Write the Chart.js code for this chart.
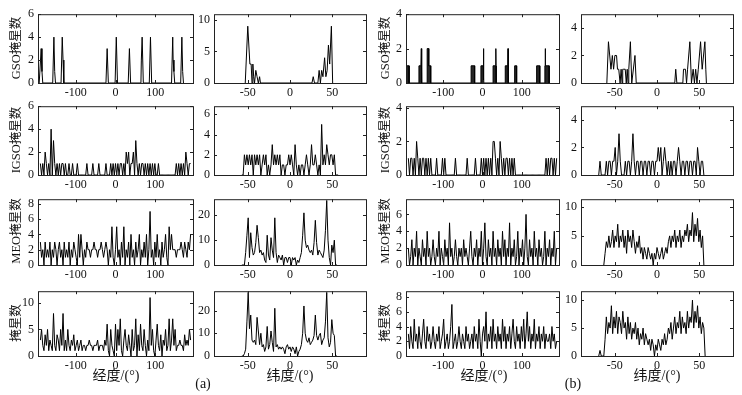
<!DOCTYPE html>
<html>
<head>
<meta charset="utf-8">
<script src="https://cdn.jsdelivr.net/npm/chart.js@4"></script>
<style>
  html, body { margin: 0; padding: 0; background: #fff; }
  #fig { position: relative; width: 742px; height: 395px; overflow: hidden;
         font-family: "Liberation Serif", "Noto Sans CJK SC", serif; color: #111; }
  #fig canvas { position: absolute; }
  .lbl { position: absolute; white-space: nowrap; line-height: 1; }
  .rot { font-size: 12.5px; transform: translate(-50%, -50%) rotate(-90deg); }
  .ctr { font-size: 14px; transform: translate(-50%, -50%); }
</style>
</head>
<body>
<div id="fig"></div>
<script>
/* 掩星数分布: (a) / (b) 两组, 每组 4 行 (GSO, IGSO, MEO, 总) x 2 列 (经度, 纬度) */
const LON_TICKS = [-100, 0, 100];
const LAT_TICKS = [-50, 0, 50];
const LON_START = -189, LON_STEP = 3;
const LAT_STEP = 1.5;
const Y_LABELS = ['GSO掩星数', 'IGSO掩星数', 'MEO掩星数', '掩星数'];

// GSO - spikes listed as explicit points
const GSO_A_LON_X = [-192,-187,-185,-183, -158,-155,-153,-151, -137,-134,-132,-130, -24,-21,-18, -1,2,5, 32,35,38, 64,65,67,70, 85,88,91, 141,144,145,147,149, 164,167,169,171];
const GSO_A_LON_Y = [0,3,1,0, 0,4,1,0, 0,4,2,0, 0,3,0, 0,4,0, 0,3,0, 0,2,4,0, 0,4,0, 0,4,2,1,0, 0,4,1,0];
const GSO_A_LAT_X = [-53,-50,-47.5,-46,-45,-44,-43,-42,-40.5,-39,-37.5,-36,-35, 26,27.5,29, 33,34.5,36,37.5,39,41,42.5,44,45.5,47,49,50.5];
const GSO_A_LAT_Y = [0,9,3,3,0,3,1,0,2,1,0,1,0, 0,1,0, 0,2,0,2,1,4,1,2,6,3,9,0];
const GSO_B_LON_X = [-195,-195,-187,-187, -162,-162,-157,-156,-155,-155, -141,-141,-137,-137,-132,-132, -29,-29,-20,-20,
  -4,-4,2,2.5,3,3, 27,27,33.5,34,34.5,35,35, 58,58,64.5,65,65.5,66,66, 82,82,87,87, 138,138,146,146, 159,159,159.5,160,160.5,170,170];
const GSO_B_LON_Y = [0,1,1,0, 0,1,1,2,1,0, 0,2,2,1,1,0, 0,1,1,0,
  0,1,1,2,1,0, 0,1,1,2,1,1,0, 0,1,1,2,1,1,0, 0,1,1,0, 0,1,1,0, 0,1,1,2,1,1,0];
const GSO_B_LAT_X = [-59.4,-57.5,-54.5,-52.9,-51.4,-49.9,-47.9,-46.8,-45.3,-43.7,-42.5,-41.4,-40.6,-39.9,-37.6,-36.4,-35.3,-34.3,-33.4,-31.5,-29.9,-26.1,-24.6,
  21,22.2,23.5, 30.6,31.4,33.7,35,36.2,38.9,40.8,42.8,44.3,45.8,47.3,48.9,51.6,53.5,56.7,57.8,58.5];
const GSO_B_LAT_Y = [0,3,1,2,1,2,2,1,1,0,1,0,1,1,1,0,1,0,1,3,0,2,0,
  0,1,0, 0,1,1,0,1,3,0,1,0,1,0,1,3,1,3,1,0];

// IGSO
const IGSO_A_LON = [1,0,1,0,2,1,0,1,0,4, 0,3,1,0,1,0,1,0,1,1, 0,1,0,0,1,0,0,1,0,0, 0,1,0,0,0,0,0,0,0,1,
  0,0,0,0,1,0,0,0,0,1, 0,0,0,0,0,1,0,0,0,1, 0,1,0,1,0,1,0,1,1,0, 1,0,2,1,2,0,1,1,2,0,
  3,1,0,1,0,1,1,0,1,0, 1,0,1,0,1,0,1,0,0,1, 0,0,0,0,0,0,0,0,0,0, 0,0,0,0,1,0,1,0,1,0, 1,0,2,1,0,1,1];
const IGSO_A_LAT_START = -57;
const IGSO_A_LAT = [0,0,2,1,2,1,2,1,2,0, 2,1,2,1,2,0,1,2,1,2, 0,1,0,1,3,1,2,1,2,1, 2,0,1,1,0,1,1,2,1,2,
  1,0,3,1,0,1,0,1,1,0, 1,2,1,0,1,3,1,1,2,1, 0,1,0,5,1,2,1,3,2,1, 2,2,1,2,0,0,0];
const IGSO_B_LON = [1,0,1,1,0,1,0,2,1,0, 1,0,1,1,0,1,0,1,0,1, 0,0,0,0,1,0,0,0,0,1, 0,1,0,0,0,0,0,0,0,0,
  1,0,0,0,0,0,0,0,0,0, 1,0,0,0,0,0,0,1,0,0, 0,0,1,0,1,0,1,0,1,0, 1,0,2,2,1,0,1,0,2,1,
  0,1,0,1,1,0,1,0,1,0, 1,0,0,0,0,0,0,0,0,0, 0,0,0,0,0,0,0,0,0,0, 0,0,0,0,0,0,0,1,0,1, 0,1,1,0,1,0,1];
const IGSO_B_LAT_START = -69;
const IGSO_B_LAT = [0,1,0,0,0,0,1,0,1,1, 0,1,1,2,0,1,3,1,0,0, 0,1,0,1,1,0,1,3,1,0, 1,1,0,1,1,0,1,1,0,1,
  1,0,1,1,0,1,1,2,1,2, 0,1,2,1,0,1,0,1,0,1, 1,0,1,2,1,0,1,1,0,1, 1,0,1,1,0,1,1,0,2,1, 0,1,1,0];

// MEO
const MEO_A_LON = [3,1,2,0,3,1,2,1,3,0,2, 1,3,2,0,2,3,1,2,0,3,1, 2,1,3,0,2,1,3,2,1,0,4, 1,4,2,0,2,1,3,2,2,1,2,
  2,3,2,2,1,2,2,3,2,1,2, 3,2,0,2,1,5,1,0,2,5,1, 2,0,3,1,5,0,2,1,3,0,4, 1,2,0,3,1,2,4,0,2,1,3,
  1,4,0,2,7,1,2,0,3,1,4, 1,2,0,3,1,2,4,1,0,5,2, 4,2,2,2,1,2,2,2,3,2,1, 3,2,1,3,2,4];
const MEO_A_LAT_START = -57;
const MEO_A_LAT = [0,0,0,5,12,19,3,13,7,4, 5,9,16,11,5,6,4,5,2,1, 12,4,2,11,6,3,19,5,1,4, 3,2,4,0,3,3,1,3,3,0,
  3,2,3,0,2,1,3,5,12,21, 10,7,8,6,5,6,4,9,18,9, 4,6,5,4,3,6,14,26,10,3, 0,8,5,10,0,0];
const MEO_B_LON = [2,0,1,3,0,2,1,4,0,2,1, 0,3,1,2,0,4,1,2,0,1,3, 1,0,2,1,4,0,2,1,0,3,1, 2,0,5,1,2,0,1,3,1,0,2,
  1,2,0,3,1,2,1,0,2,4,1, 0,2,1,3,0,2,1,4,0,2,5, 1,0,3,1,2,0,4,1,2,0,3, 1,2,0,4,1,3,0,2,1,5,0,
  2,1,3,0,1,4,0,2,1,3,0, 2,6,1,0,3,1,2,0,4,1,2, 0,3,1,2,0,1,4,0,2,1,3, 0,2,1,4,0,2];
const MEO_B_LAT_START = -63;
const MEO_B_LAT = [0,2,4,3,5,3,4,6,3,5, 4,7,3,5,4,6,3,5,2,6, 4,5,3,6,4,2,4,3,5,2, 3,1,3,2,1,3,2,1,2,0,
  2,1,3,2,1,2,3,1,2,3, 2,4,5,3,5,4,6,3,5,4, 6,3,5,4,6,5,7,4,6,5, 9,4,7,5,8,4,6,3,5,0];

// 总掩星数
const TOTAL_A_LON = [3,5,2,1,4,2,5,1,3,2,1, 8,2,1,4,3,1,5,2,8,1,3, 1,5,2,1,3,2,4,1,2,3,1, 2,3,1,2,2,1,2,2,3,2,2,
  1,2,2,2,3,1,2,2,2,1,3, 2,6,1,0,5,2,1,0,6,1,5, 2,7,1,0,3,5,2,1,4,2,0, 5,1,2,7,0,4,1,6,2,1,5,
  2,0,3,1,11,2,5,1,0,3,6, 2,1,4,0,3,2,5,1,2,7,1, 3,7,2,5,1,2,2,3,2,2,1, 4,2,3,2,5,3];
const TOTAL_A_LAT_START = -57;
const TOTAL_A_LAT = [0,0,1,3,15,28,12,18,7,6, 7,5,17,11,5,10,4,5,2,4, 13,3,5,11,6,2,21,4,5,3, 4,3,4,3,1,4,5,3,4,2,
  4,3,1,4,0,2,3,5,10,22, 10,7,6,8,5,6,7,9,18,9, 7,9,10,5,7,8,15,28,8,4, 6,16,10,9,0,0];
const TOTAL_B_LON = [3,1,4,2,1,5,2,3,1,4,2, 1,3,5,2,1,4,2,3,1,2,4, 2,1,3,2,4,1,2,3,5,1,2, 3,1,2,4,7,1,2,3,1,2,4,
  2,1,3,2,1,4,2,3,1,2,3, 1,4,2,3,1,5,2,0,3,4,2, 6,1,3,2,4,1,5,2,3,1,4, 2,3,1,5,2,4,1,3,2,4,1,
  3,5,2,1,4,2,3,1,4,2,5, 1,3,6,2,4,1,3,2,5,1,3, 2,4,1,3,2,4,1,3,2,2,3, 1,4,2,3,1,2];
const TOTAL_B_LAT_START = -69;
const TOTAL_B_LAT = [0,1,0,0,0,3,7,4,6,5, 9,4,7,5,8,4,7,6,4,8, 5,6,3,7,4,6,3,5,4,6, 3,5,2,4,3,5,2,4,3,2,
  3,1,3,2,0,2,1,3,2,1, 3,2,4,2,3,5,4,6,3,5, 7,4,6,5,8,4,7,5,6,4, 8,5,7,6,10,5,8,6,9,5, 7,4,6,5,0];

// 布局 (像素)
const COL_X = [[38, 193], [214, 366], [406, 559], [581, 733]];
const ROW_Y = [[12, 83], [104, 175], [197, 265], [289, 356]];
const AX_W = 32, AX_H = 20, PAD_T = 9, PAD_R = 8;
const TICK_FONT = { family: '"Liberation Serif", serif', size: 12 };

const pts = (xs, ys) => ys.map((y, i) => ({ x: xs[i], y }));
const gridPts = (start, step, ys) => ys.map((y, i) => ({ x: start + step * i, y }));

const PANELS = [
  { r: 0, c: 0, data: pts(GSO_A_LON_X, GSO_A_LON_Y), yMax: 6, yTicks: [0, 2, 4, 6] },
  { r: 0, c: 1, data: pts(GSO_A_LAT_X, GSO_A_LAT_Y), yMax: 10.9, yTicks: [0, 5, 10] },
  { r: 0, c: 2, data: pts(GSO_B_LON_X, GSO_B_LON_Y), yMax: 4, yTicks: [0, 2, 4], fill: true },
  { r: 0, c: 3, data: pts(GSO_B_LAT_X, GSO_B_LAT_Y), yMax: 5, yTicks: [0, 2, 4] },
  { r: 1, c: 0, data: gridPts(LON_START, LON_STEP, IGSO_A_LON), yMax: 6, yTicks: [0, 2, 4, 6] },
  { r: 1, c: 1, data: gridPts(IGSO_A_LAT_START, LAT_STEP, IGSO_A_LAT), yMax: 6.8, yTicks: [0, 2, 4, 6] },
  { r: 1, c: 2, data: gridPts(LON_START, LON_STEP, IGSO_B_LON), yMax: 4.1, yTicks: [0, 2, 4] },
  { r: 1, c: 3, data: gridPts(IGSO_B_LAT_START, LAT_STEP, IGSO_B_LAT), yMax: 5, yTicks: [0, 2, 4] },
  { r: 2, c: 0, data: gridPts(LON_START, LON_STEP, MEO_A_LON), yMax: 8.6, yTicks: [0, 2, 4, 6, 8] },
  { r: 2, c: 1, data: gridPts(MEO_A_LAT_START, LAT_STEP, MEO_A_LAT), yMax: 26.5, yTicks: [0, 10, 20] },
  { r: 2, c: 2, data: gridPts(LON_START, LON_STEP, MEO_B_LON), yMax: 7.8, yTicks: [0, 2, 4, 6] },
  { r: 2, c: 3, data: gridPts(MEO_B_LAT_START, LAT_STEP, MEO_B_LAT), yMax: 11.3, yTicks: [0, 5, 10] },
  { r: 3, c: 0, data: gridPts(LON_START, LON_STEP, TOTAL_A_LON), yMax: 12.2, yTicks: [0, 5, 10] },
  { r: 3, c: 1, data: gridPts(TOTAL_A_LAT_START, LAT_STEP, TOTAL_A_LAT), yMax: 28.5, yTicks: [0, 10, 20] },
  { r: 3, c: 2, data: gridPts(LON_START, LON_STEP, TOTAL_B_LON), yMax: 8.8, yTicks: [0, 2, 4, 6, 8] },
  { r: 3, c: 3, data: gridPts(TOTAL_B_LAT_START, LAT_STEP, TOTAL_B_LAT), yMax: 11.6, yTicks: [0, 5, 10] },
];

// matlab 风格: 四边框 + 朝内的刻度
const framePlugin = {
  id: 'frame',
  afterDraw(chart) {
    const { ctx, chartArea: a, scales: { x, y } } = chart;
    const L = 3;
    ctx.save();
    ctx.strokeStyle = '#222';
    ctx.lineWidth = 1;
    ctx.strokeRect(a.left + 0.5, a.top + 0.5, a.right - a.left, a.bottom - a.top);
    ctx.beginPath();
    x.ticks.forEach(t => {
      const px = Math.round(x.getPixelForValue(t.value)) + 0.5;
      ctx.moveTo(px, a.bottom); ctx.lineTo(px, a.bottom - L);
      ctx.moveTo(px, a.top); ctx.lineTo(px, a.top + L);
    });
    y.ticks.forEach(t => {
      const py = Math.round(y.getPixelForValue(t.value)) + 0.5;
      ctx.moveTo(a.left, py); ctx.lineTo(a.left + L, py);
      ctx.moveTo(a.right, py); ctx.lineTo(a.right - L, py);
    });
    ctx.stroke();
    ctx.restore();
  }
};

const fig = document.getElementById('fig');

function addLabel(text, x, y, cls) {
  const d = document.createElement('div');
  d.className = 'lbl ' + cls;
  d.textContent = text;
  d.style.left = x + 'px';
  d.style.top = y + 'px';
  fig.appendChild(d);
}

PANELS.forEach(p => {
  const [x0, x1] = COL_X[p.c];
  const [y0, y1] = ROW_Y[p.r];
  const isLon = p.c % 2 === 0;
  const canvas = document.createElement('canvas');
  canvas.width = AX_W + (x1 - x0) + PAD_R;
  canvas.height = PAD_T + (y1 - y0) + AX_H;
  canvas.style.left = (x0 - AX_W) + 'px';
  canvas.style.top = (y0 - PAD_T) + 'px';
  fig.appendChild(canvas);

  const xTicks = isLon ? LON_TICKS : LAT_TICKS;
  new Chart(canvas, {
    type: 'line',
    data: {
      datasets: [{
        data: p.data,
        borderColor: '#000', borderWidth: 1, pointRadius: 0, tension: 0,
        fill: p.fill ? 'origin' : false, backgroundColor: '#262626'
      }]
    },
    options: {
      responsive: false, animation: false, events: [],
      layout: { padding: { left: 0, top: PAD_T, right: PAD_R, bottom: 0 } },
      plugins: { legend: { display: false }, tooltip: { enabled: false } },
      scales: {
        x: {
          type: 'linear', min: isLon ? -195 : -90, max: isLon ? 195 : 90,
          afterBuildTicks: s => { s.ticks = xTicks.map(v => ({ value: v })); },
          afterFit: s => { s.height = AX_H; },
          grid: { display: false, drawTicks: false }, border: { display: false },
          ticks: { font: TICK_FONT, color: '#111', padding: 3, maxRotation: 0, autoSkip: false }
        },
        y: {
          min: 0, max: p.yMax,
          afterBuildTicks: s => { s.ticks = p.yTicks.map(v => ({ value: v })); },
          afterFit: s => { s.width = AX_W; },
          grid: { display: false, drawTicks: false }, border: { display: false },
          ticks: { font: TICK_FONT, color: '#111', padding: 4, autoSkip: false }
        }
      }
    },
    plugins: [framePlugin]
  });
});

// 轴标题
ROW_Y.forEach(([y0, y1], r) => {
  addLabel(Y_LABELS[r], 16, (y0 + y1) / 2, 'rot');
  addLabel(Y_LABELS[r], 385, (y0 + y1) / 2, 'rot');
});
addLabel('经度/(°)', 116, 376, 'ctr');
addLabel('纬度/(°)', 290, 376, 'ctr');
addLabel('经度/(°)', 484, 376, 'ctr');
addLabel('纬度/(°)', 657, 376, 'ctr');
addLabel('(a)', 203, 384, 'ctr');
addLabel('(b)', 573, 384, 'ctr');
</script>
</body>
</html>
